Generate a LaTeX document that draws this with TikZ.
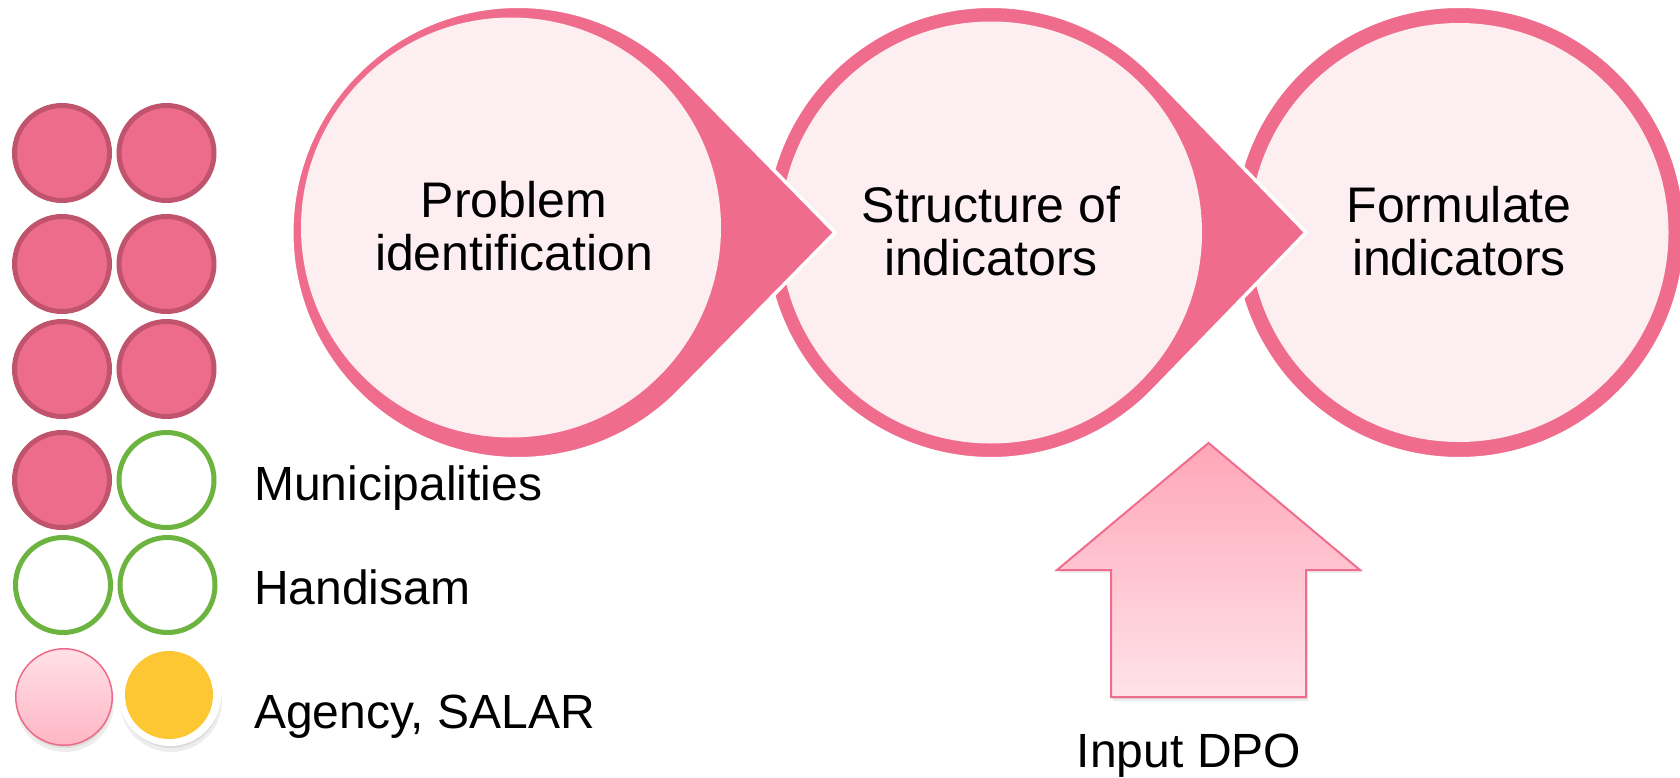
\documentclass[tikz,border=0pt]{standalone}
\usepackage{fontspec}
\setmainfont{Liberation Sans}
\definecolor{ringpink}{HTML}{F06C8C}
\definecolor{innerpink}{HTML}{FCEEF1}
\definecolor{dotpink}{HTML}{EE6C8B}
\definecolor{dotedge}{HTML}{BF546C}
\definecolor{dotgreen}{HTML}{6DB33F}
\definecolor{dotyellow}{HTML}{FDC733}
\definecolor{gradtop}{HTML}{FFE0E6}
\definecolor{gradbot}{HTML}{FFB6C5}
\definecolor{gradedge}{HTML}{EC6A88}
\definecolor{arrowtop}{HTML}{FFA6B8}
\definecolor{arrowbot}{HTML}{FFE3E9}
\definecolor{arrowedge}{HTML}{EF6D8C}
\begin{document}
\begin{tikzpicture}[x=1pt,y=1pt,
  outershape/.style={fill=ringpink, draw=white, line width=3.5pt, line join=miter},
  innerdisk/.style={fill=innerpink},
  steptext/.style={align=center, font=\fontsize{50}{53}\selectfont, inner sep=0pt},
  legendtext/.style={anchor=base west, font=\fontsize{48}{52}\selectfont, inner sep=0pt},
  dotbase/.style={circle, inner sep=0pt, minimum size=95pt, line width=5pt},
  munidot/.style={dotbase, fill=dotpink, draw=dotedge},
  handidot/.style={dotbase, fill=white, draw=dotgreen},
  agencydot/.style={circle, inner sep=0pt, minimum size=96.5pt, line width=1.5pt, draw=gradedge, top color=gradtop, bottom color=gradbot},
  salarring/.style={circle, inner sep=0pt, minimum size=102pt, fill=white},
  salardot/.style={circle, inner sep=0pt, minimum size=88pt, fill=dotyellow},
  shadowfill/.style={fill=black, opacity=0.07},
  inputarrow/.style={draw=arrowedge, line width=2pt, top color=arrowtop, bottom color=arrowbot},
  inputtext/.style={anchor=base, font=\fontsize{48}{52}\selectfont, inner sep=0pt},
]
\useasboundingbox (0,0) rectangle (1680,-778);
\clip (0,0) rectangle (1680,-778);
\pgfmathsetmacro\aone{acos(226.25/317)}
\pgfmathsetmacro\atwo{acos(226.25/315)}

% step 3 (bottom of the stack)
\filldraw[outershape] (1459,-232.5) circle (226.25);
\fill[innerdisk] (1459,-232.5) circle (209.5);
% step 2
\filldraw[outershape] (991,-232.5) ++(\atwo:226.25)
  arc[start angle=\atwo, end angle={360-\atwo}, radius=226.25] -- (1306,-232.5) -- cycle;
\fill[innerdisk] (991,-232.5) circle (211);
% step 1
\filldraw[outershape] (518,-232.5) ++(\aone:226.25)
  arc[start angle=\aone, end angle={360-\aone}, radius=226.25] -- (835,-232.5) -- cycle;
\fill[innerdisk] (511,-227.5) circle (210);

\node[steptext] (p1) at (514,-226) {Problem\\identification};
\node[steptext] (p2) at (991,-231) {Structure of\\indicators};
\node[steptext] (p3) at (1459,-231) {Formulate\\indicators};

% legend dots
\node[munidot] (d11) at (62,-153) {};
\node[munidot] (d12) at (166.5,-153) {};
\node[munidot] (d21) at (62,-264) {};
\node[munidot] (d22) at (166.5,-264) {};
\node[munidot] (d31) at (62,-369) {};
\node[munidot] (d32) at (166.5,-369) {};
\node[munidot] (d41) at (62,-480) {};
\node[handidot] (d42) at (166.5,-480) {};
\node[handidot] (d51) at (63,-585) {};
\node[handidot] (d52) at (167.5,-585) {};
\fill[shadowfill] (65,-703) circle (49);
\fill[shadowfill] (65,-701) circle (47);
\fill[shadowfill] (171,-701) circle (51);
\fill[shadowfill] (171,-699) circle (49);
\node[agencydot] (d61) at (64,-697) {};
\node[salarring] (d62) at (170,-695) {};
\node[salardot] (d62y) at (169,-695) {};

\node[legendtext] (lm) at (254,-500) {Municipalities};
\node[legendtext] (lh) at (254,-604) {Handisam};
\node[legendtext] (la) at (254,-728) {Agency, SALAR};

% input arrow
\fill[shadowfill] (1113,-701) -- (1113,-573) -- (1059,-573) -- (1210,-446)
  -- (1362,-573) -- (1308,-573) -- (1308,-701) -- cycle;
\fill[shadowfill] (1112,-699) -- (1112,-571) -- (1058,-571) -- (1209,-444)
  -- (1361,-571) -- (1307,-571) -- (1307,-699) -- cycle;
\path[inputarrow] (1111,-697) -- (1111,-570) -- (1057,-570) -- (1208.5,-443)
  -- (1360,-570) -- (1306,-570) -- (1306,-697) -- cycle;
\node[inputtext] (dpo) at (1189,-767) {Input DPO};
\end{tikzpicture}
\end{document}
